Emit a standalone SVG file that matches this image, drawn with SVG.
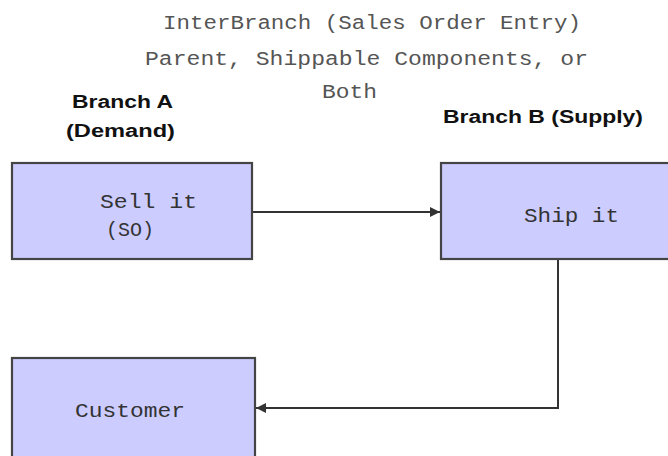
<svg xmlns="http://www.w3.org/2000/svg" width="668" height="456" viewBox="0 0 668 456">
<defs>
<style>
.box{fill:#ccccff;stroke:#444;stroke-width:2.2}
.mono{font-family:"Liberation Mono","Courier New",monospace;font-size:21px;fill:#333}
.title{font-family:"Liberation Mono","Courier New",monospace;font-size:20px;fill:#555}
.bold{font-family:"Liberation Sans",Arial,sans-serif;font-size:18px;font-weight:bold;fill:#111}
.conn{fill:none;stroke:#333;stroke-width:2}
</style>
<marker id="ah" viewBox="0 0 10 10" refX="10" refY="5" markerWidth="10" markerHeight="10" markerUnits="userSpaceOnUse" orient="auto">
<path d="M0,0 L10,5 L0,10 Z" fill="#333"/>
</marker>
</defs>
<rect width="668" height="456" fill="#fff"/>
<g id="labels">
<text class="title" x="163" y="29" textLength="418" lengthAdjust="spacingAndGlyphs">InterBranch (Sales Order Entry)</text>
<text class="title" x="145" y="65" textLength="443" lengthAdjust="spacingAndGlyphs">Parent, Shippable Components, or</text>
<text class="title" x="322" y="98" textLength="55" lengthAdjust="spacingAndGlyphs">Both</text>
<text class="bold" x="72" y="108" textLength="101" lengthAdjust="spacingAndGlyphs">Branch A</text>
<text class="bold" x="66" y="137" textLength="109" lengthAdjust="spacingAndGlyphs">(Demand)</text>
<text class="bold" x="443" y="123" textLength="200" lengthAdjust="spacingAndGlyphs">Branch B (Supply)</text>
</g>
<g id="connectors">
<line class="conn" x1="253" y1="212" x2="440" y2="212" marker-end="url(#ah)"/>
<path class="conn" d="M558,260 V408 H256" marker-end="url(#ah)"/>
</g>
<g id="sell">
<rect class="box" x="12" y="163" width="240" height="96"/>
<text class="mono" x="100" y="208" textLength="97" lengthAdjust="spacingAndGlyphs">Sell it</text>
<text class="mono" x="106" y="236" textLength="48" lengthAdjust="spacingAndGlyphs">(SO)</text>
</g>
<g id="ship">
<rect class="box" x="441" y="163" width="240" height="96"/>
<text class="mono" x="524" y="222" textLength="95" lengthAdjust="spacingAndGlyphs">Ship it</text>
</g>
<g id="customer">
<rect class="box" x="12" y="358" width="243" height="112"/>
<text class="mono" x="75" y="417" textLength="110" lengthAdjust="spacingAndGlyphs">Customer</text>
</g>
</svg>
